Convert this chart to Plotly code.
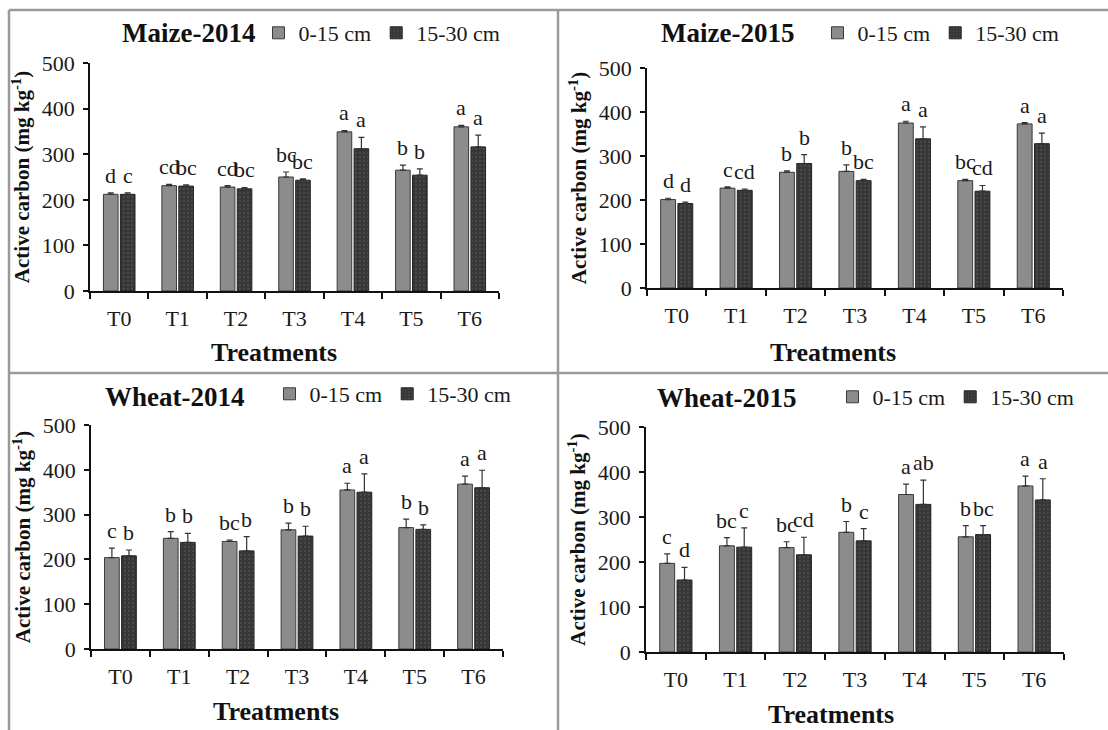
import plotly.graph_objects as go

W, H = 1108, 730

treatments = ["T0", "T1", "T2", "T3", "T4", "T5", "T6"]
series_names = ["0-15 cm", "15-30 cm"]

# Maize-2014
m14_top = [212, 231, 228, 250, 349, 265, 360]
m14_top_err = [3, 3, 3, 11, 3, 11, 3]
m14_sub = [212, 230, 224, 243, 312, 254, 316]
m14_sub_err = [3, 3, 3, 3, 25, 14, 26]
m14_top_let = ["d", "cd", "cd", "bc", "a", "b", "a"]
m14_sub_let = ["c", "bc", "bc", "bc", "a", "b", "a"]

# Maize-2015
m15_top = [201, 227, 263, 265, 375, 244, 373]
m15_top_err = [3, 3, 3, 15, 4, 3, 3]
m15_sub = [192, 222, 283, 244, 339, 220, 328]
m15_sub_err = [3, 3, 20, 3, 27, 13, 24]
m15_top_let = ["d", "c", "b", "b", "a", "bc", "a"]
m15_sub_let = ["d", "cd", "b", "bc", "a", "cd", "a"]

# Wheat-2014
w14_top = [204, 247, 240, 266, 355, 271, 368]
w14_top_err = [21, 15, 3, 15, 15, 19, 18]
w14_sub = [208, 238, 219, 252, 350, 267, 360]
w14_sub_err = [13, 20, 32, 22, 41, 10, 39]
w14_top_let = ["c", "b", "bc", "b", "a", "b", "a"]
w14_sub_let = ["b", "b", "b", "b", "a", "b", "a"]

# Wheat-2015
w15_top = [197, 236, 232, 266, 350, 256, 369]
w15_top_err = [21, 18, 13, 24, 23, 25, 22]
w15_sub = [160, 233, 216, 247, 328, 261, 338]
w15_sub_err = [28, 43, 39, 27, 54, 20, 47]
w15_top_let = ["c", "bc", "bc", "b", "a", "b", "a"]
w15_sub_let = ["d", "c", "cd", "c", "ab", "bc", "a"]

panels = [
    dict(title="Maize-2014", top=m14_top, top_err=m14_top_err, sub=m14_sub, sub_err=m14_sub_err,
         top_let=m14_top_let, sub_let=m14_sub_let,
         xd=(90, 499), yd=(63, 291), title_xy=(188, 33), leg_xy=(382, 33), xt_xy=(274, 352)),
    dict(title="Maize-2015", top=m15_top, top_err=m15_top_err, sub=m15_sub, sub_err=m15_sub_err,
         top_let=m15_top_let, sub_let=m15_sub_let,
         xd=(647, 1063), yd=(68, 288), title_xy=(727, 33), leg_xy=(941, 33), xt_xy=(833, 352)),
    dict(title="Wheat-2014", top=w14_top, top_err=w14_top_err, sub=w14_sub, sub_err=w14_sub_err,
         top_let=w14_top_let, sub_let=w14_sub_let,
         xd=(91, 503), yd=(425, 649), title_xy=(174, 397), leg_xy=(393, 394), xt_xy=(276, 711)),
    dict(title="Wheat-2015", top=w15_top, top_err=w15_top_err, sub=w15_sub, sub_err=w15_sub_err,
         top_let=w15_top_let, sub_let=w15_sub_let,
         xd=(646, 1064), yd=(427, 652), title_xy=(726, 398), leg_xy=(956, 397), xt_xy=(831, 714)),
]

FONT = "Liberation Serif"
TOP_COLOR = "#8c8c8c"
SUB_COLOR = "#363636"
BAR_W = 0.25
OFF_TOP = -0.27
OFF_SUB = 0.02


def px_x(p):
    return p / W


def px_y(p):
    return 1 - p / H


fig = go.Figure()
annotations = []
idx_x = list(range(len(treatments)))

for k, p in enumerate(panels):
    n = "" if k == 0 else str(k + 1)
    xa, ya = "x" + n, "y" + n
    leg = "legend" + n
    fig.add_trace(go.Bar(
        x=idx_x, y=p["top"], name=series_names[0], legend=leg,
        xaxis=xa, yaxis=ya, width=BAR_W, offset=OFF_TOP,
        marker=dict(color=TOP_COLOR, line=dict(color="#3a3a3a", width=1)),
        error_y=dict(type="data", array=p["top_err"], arrayminus=[0] * 7, symmetric=False,
                     color="#333333", thickness=1.2, width=3),
    ))
    fig.add_trace(go.Bar(
        x=idx_x, y=p["sub"], name=series_names[1], legend=leg,
        xaxis=xa, yaxis=ya, width=BAR_W, offset=OFF_SUB,
        marker=dict(color=SUB_COLOR, line=dict(color="#222222", width=1),
                    pattern=dict(shape=".", fgcolor="#5c5c5c", size=4, solidity=0.25)),
        error_y=dict(type="data", array=p["sub_err"], arrayminus=[0] * 7, symmetric=False,
                     color="#333333", thickness=1.2, width=3),
    ))
    # significance letters
    for i in idx_x:
        for vals, errs, lets, off in ((p["top"], p["top_err"], p["top_let"], OFF_TOP),
                                      (p["sub"], p["sub_err"], p["sub_let"], OFF_SUB)):
            annotations.append(dict(
                x=i + off + BAR_W / 2, y=vals[i] + errs[i], xref=xa, yref=ya,
                text=lets[i], showarrow=False, yanchor="bottom", yshift=3,
                font=dict(family=FONT, size=22, color="#1a1a1a"),
            ))
    # panel title
    annotations.append(dict(
        x=px_x(p["title_xy"][0]), y=px_y(p["title_xy"][1]), xref="paper", yref="paper",
        text="<b>" + p["title"] + "</b>", showarrow=False, xanchor="center", yanchor="middle",
        font=dict(family=FONT, size=27, color="#111111"),
    ))
    # x-axis title
    annotations.append(dict(
        x=px_x(p["xt_xy"][0]), y=px_y(p["xt_xy"][1]), xref="paper", yref="paper",
        text="<b>Treatments</b>", showarrow=False, xanchor="center", yanchor="middle",
        font=dict(family=FONT, size=26, color="#111111"),
    ))
    axis_common = dict(showline=True, linecolor="#111111", linewidth=1.5, showgrid=False,
                       zeroline=False, automargin=False,
                       tickfont=dict(family=FONT, size=22, color="#1a1a1a"))
    fig.update_layout(**{
        "xaxis" + n: dict(
            domain=[px_x(p["xd"][0]), px_x(p["xd"][1])], anchor=ya, range=[-0.5, 6.5],
            tickvals=idx_x, ticktext=treatments, ticks="", ticklabelstandoff=7,
            minor=dict(tickvals=[i - 0.5 for i in range(8)], ticks="outside", ticklen=6,
                       tickcolor="#111111", tickwidth=1.5),
            **axis_common),
        "yaxis" + n: dict(
            domain=[px_y(p["yd"][1]), px_y(p["yd"][0])], anchor=xa, range=[0, 500], dtick=100,
            ticks="outside", ticklen=5, tickcolor="#111111", tickwidth=1.5, ticklabelstandoff=4,
            title=dict(text="<b>Active carbon (mg kg<sup>-1</sup>)</b>", standoff=6,
                       font=dict(family=FONT, size=21, color="#111111")),
            **axis_common),
        leg: dict(
            x=px_x(p["leg_xy"][0]), y=px_y(p["leg_xy"][1]), xanchor="center", yanchor="middle",
            orientation="h", bgcolor="rgba(0,0,0,0)", itemwidth=30,
            font=dict(family=FONT, size=22, color="#1a1a1a")),
    })

# panel frame lines
frame = dict(type="line", xref="paper", yref="paper", line=dict(color="#9a9a9a", width=2.5))
shapes = [
    dict(frame, x0=px_x(9), x1=px_x(9), y0=px_y(10), y1=px_y(730)),
    dict(frame, x0=px_x(558), x1=px_x(558), y0=px_y(10), y1=px_y(730)),
    dict(frame, x0=px_x(9), x1=1, y0=px_y(10), y1=px_y(10)),
    dict(frame, x0=px_x(9), x1=1, y0=px_y(373), y1=px_y(373)),
]

fig.update_layout(
    width=W, height=H, margin=dict(l=0, r=0, t=0, b=0, autoexpand=False),
    paper_bgcolor="white", plot_bgcolor="white",
    barmode="overlay", showlegend=True,
    annotations=annotations, shapes=shapes,
)

fig.write_html(
    "out.html",
    config={"displayModeBar": False},
    post_script="document.body.style.margin='0';document.body.style.overflow='hidden';"
                "document.documentElement.style.overflow='hidden';",
)
